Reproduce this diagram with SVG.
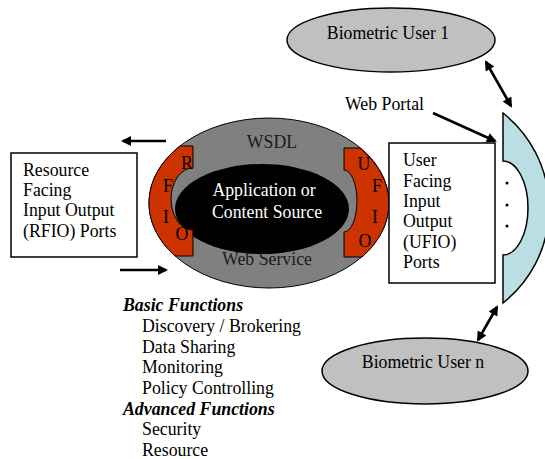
<svg xmlns="http://www.w3.org/2000/svg" width="545" height="459" viewBox="0 0 545 459">
  <style>
    text { font-family: "Liberation Serif", "Times New Roman", serif; font-size: 17.8px; fill: #000; }
    .mid { text-anchor: middle; }
    .box { fill: #fff; stroke: #000; stroke-width: 1.5; }
    .user { fill: #c0c0c0; stroke: #000; stroke-width: 1.5; }
    .port { fill: #cc3300; stroke: #000; stroke-width: 1; }
    .ws { fill: #808080; stroke: #000; stroke-width: 1; }
    .core { fill: #000; }
    .portal { fill: #b9dfe3; stroke: #000; stroke-width: 1.5; }
    .head { font-weight: bold; font-style: italic; }
    .conn { stroke: #000; stroke-width: 2.6; fill: none; }
    .white { fill: #fff; }
    .dark { fill: #1a1a1a; }
  </style>
  <defs>
    <marker id="ah" viewBox="0 0 10 10" refX="8" refY="5" markerWidth="12" markerHeight="10" markerUnits="userSpaceOnUse" orient="auto-start-reverse">
      <path d="M0,0 L10,5 L0,10 Z" fill="#000"/>
    </marker>
  </defs>

  <rect width="545" height="459" fill="#fff"/>

  <!-- web service with its two port sets -->
  <g id="web-service">
    <ellipse class="ws" cx="269" cy="203" rx="120" ry="85"/>
    <ellipse class="core" cx="262" cy="209" rx="87" ry="45"/>
    <text class="mid dark" x="272" y="148">WSDL</text>
    <text class="mid dark" x="267" y="265">Web Service</text>
    <text class="mid white" x="264" y="196">Application or</text>
    <text class="mid white" x="267" y="218">Content Source</text>
  </g>

  <g id="rfio-ports">
    <path class="port" d="M193,146 L180,146 A120,85 0 0 0 175,256 L193,256 L193,230 A22,31 0 0 1 193,168 Z"/>
    <text class="mid" x="187" y="169">R</text>
    <text class="mid" x="168" y="192">F</text>
    <text class="mid" x="166" y="223">I</text>
    <text class="mid" x="182" y="240">O</text>
  </g>

  <g id="ufio-ports">
    <path class="port" d="M344,148 L360,148 A120,85 0 0 1 362,257 L344,257 L344,232 A13,31 0 0 0 344,170 Z"/>
    <text class="mid" x="364" y="170">U</text>
    <text class="mid" x="377" y="192">F</text>
    <text class="mid" x="375" y="223">I</text>
    <text class="mid" x="365" y="247">O</text>
  </g>

  <g id="rfio-box">
    <rect class="box" x="11" y="153" width="126" height="104"/>
    <text x="23" y="176">Resource</text>
    <text x="23" y="196">Facing</text>
    <text x="23" y="216">Input Output</text>
    <text x="23" y="237">(RFIO) Ports</text>
  </g>

  <g id="ufio-box">
    <rect class="box" x="389" y="143" width="106" height="140"/>
    <text x="403" y="166">User</text>
    <text x="403" y="187">Facing</text>
    <text x="403" y="207">Input</text>
    <text x="403" y="227">Output</text>
    <text x="403" y="248">(UFIO)</text>
    <text x="403" y="268">Ports</text>
  </g>

  <g id="web-portal">
    <path class="portal" d="M503,113 A121,121 0 0 1 503,303 L503,255 A25,47 0 0 0 503,161 Z"/>
    <circle cx="507" cy="183" r="1.5" fill="#000"/>
    <circle cx="507" cy="205" r="1.5" fill="#000"/>
    <circle cx="507" cy="226" r="1.5" fill="#000"/>
    <text x="345" y="110">Web Portal</text>
  </g>

  <g id="user-1">
    <ellipse class="user" cx="391" cy="40" rx="104" ry="32"/>
    <text class="mid" x="388" y="39">Biometric User 1</text>
  </g>

  <g id="user-n">
    <ellipse class="user" cx="425" cy="371" rx="103" ry="33"/>
    <text class="mid" x="423" y="368">Biometric User n</text>
  </g>

  <g id="functions">
    <text class="head" x="123" y="310.5">Basic Functions</text>
    <text x="142" y="331.5">Discovery / Brokering</text>
    <text x="142" y="352.5">Data Sharing</text>
    <text x="142" y="373">Monitoring</text>
    <text x="142" y="394">Policy Controlling</text>
    <text class="head" x="123" y="414.5">Advanced Functions</text>
    <text x="142" y="435">Security</text>
    <text x="142" y="456">Resource</text>
  </g>

  <g id="connectors">
    <line class="conn" x1="166" y1="141" x2="123" y2="141" marker-end="url(#ah)"/>
    <line class="conn" x1="120" y1="270" x2="166" y2="270" marker-end="url(#ah)"/>
    <line class="conn" x1="433" y1="113" x2="495" y2="141" marker-end="url(#ah)"/>
    <line class="conn" x1="486" y1="62" x2="511" y2="106" marker-start="url(#ah)" marker-end="url(#ah)"/>
    <line class="conn" x1="478" y1="340" x2="497" y2="307" marker-start="url(#ah)" marker-end="url(#ah)"/>
  </g>
</svg>
